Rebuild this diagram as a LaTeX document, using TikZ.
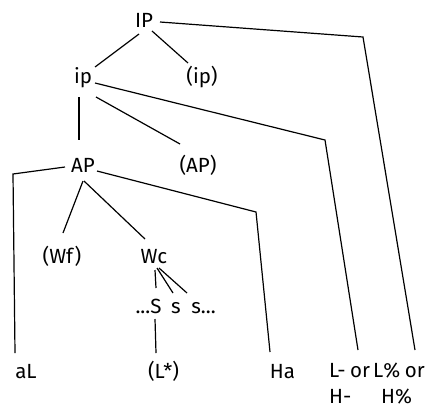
\documentclass[tikz,border=0pt]{standalone}
\usepackage{fontspec}
\setmainfont{Fira Sans}
\begin{document}
\begin{tikzpicture}[x=1pt,y=-1pt,
  lbl/.style={inner sep=0pt,anchor=base,font=\fontsize{20.5}{26}\selectfont},
  lbll/.style={inner sep=0pt,anchor=base west,align=left,font=\fontsize{20.5}{26}\selectfont},
  edge/.style={line width=1.2pt,line join=miter}]
\useasboundingbox (0,0) rectangle (438,407);
\node[lbl] (IP) at (144,27) {IP};
\node[lbl] (ip) at (83,83) {ip};
\node[lbl] (ipp) at (202,83) {(ip)};
\node[lbl] (AP) at (83,172) {AP};
\node[lbl] (APp) at (198,172) {(AP)};
\node[lbl] (Wf) at (62,263) {(Wf)};
\node[lbl] (Wc) at (154,263) {Wc};
\node[lbl] (S1) at (148.5,313) {...S};
\node[lbl] (s2) at (176,313) {s};
\node[lbl] (s3) at (203.5,313) {s...};
\node[lbl] (aL) at (26,378) {aL};
\node[lbl] (Ls) at (163.5,378) {(L*)};
\node[lbl] (Ha) at (282.5,378) {Ha};
\node[lbll] (LH1) at (329,403) {L-\hspace{-1pt} or\\H-};
\node[lbll] (LH2) at (373,403) {L\%\hspace{-1pt} or\\\hspace*{8pt}H\%};
\draw[edge] ([shift={(-5,7)}]IP.base) -- ([shift={(12,-16)}]ip.base);
\draw[edge] ([shift={(8,4)}]IP.base) -- ([shift={(-14,-20)}]ipp.base);
\draw[edge] ([shift={(16,-5)}]IP.base) -- (363,37) -- ([shift={(42,-53)}]LH2.base west);
\draw[edge] ([shift={(12,0)}]ip.base) -- (325,140) -- ([shift={(29,-53)}]LH1.base west);
\draw[edge] ([shift={(-4,14)}]ip.base) -- ([shift={(-4,-32)}]AP.base);
\draw[edge] ([shift={(13,14)}]ip.base) -- ([shift={(-18,-28)}]APp.base);
\draw[edge] ([shift={(-18,-5)}]AP.base) -- (13,174) -- ([shift={(-11,-25)}]aL.base);
\draw[edge] ([shift={(14,-1)}]AP.base) -- (256,212) -- ([shift={(-12.5,-26)}]Ha.base);
\draw[edge] ([shift={(0,9)}]AP.base) -- ([shift={(1,-30)}]Wf.base);
\draw[edge] ([shift={(1,9)}]AP.base) -- ([shift={(-9,-24)}]Wc.base);
\draw[edge] ([shift={(1,7)}]Wc.base) -- ([shift={(7.5,-25)}]S1.base);
\draw[edge] ([shift={(3,5)}]Wc.base) -- ([shift={(-3,-20)}]s2.base);
\draw[edge] ([shift={(5,5)}]Wc.base) -- ([shift={(-16.5,-20)}]s3.base);
\draw[edge] ([shift={(6.5,6)}]S1.base) -- ([shift={(-7.5,-25)}]Ls.base);
\end{tikzpicture}
\end{document}
